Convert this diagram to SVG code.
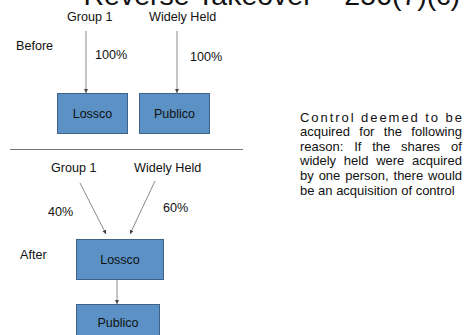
<svg xmlns="http://www.w3.org/2000/svg" width="467" height="335" viewBox="0 0 467 335">
<style>
text{font-family:"Liberation Sans",Arial,Helvetica,sans-serif;fill:#111}
.t{font-size:12.6px}
.n{font-size:12.5px;text-anchor:middle}
.box{fill:#5b91c4;stroke:#3f6288;stroke-width:1}
.c{stroke:#8a8a8a;stroke-width:1;fill:none}
.r{font-size:13px}
</style>
<defs>
<marker id="ah" viewBox="0 0 6 6" refX="6" refY="3" markerWidth="4" markerHeight="4" orient="auto" markerUnits="userSpaceOnUse">
<path d="M0,0 L6,3 L0,6 z" fill="#444"/>
</marker>
</defs>
<rect width="467" height="335" fill="#fff"/>
<text x="460" y="5" style="font-size:28.5px;text-anchor:end">Reverse Takeover – 256(7)(c)</text>
<g id="labels">
<text class="t" x="67" y="21">Group 1</text>
<text class="t" x="149" y="21">Widely Held</text>
<text class="t" x="16" y="50">Before</text>
<text class="t" x="95" y="59">100%</text>
<text class="t" x="190" y="61">100%</text>
<text class="t" x="51" y="172">Group 1</text>
<text class="t" x="134" y="172">Widely Held</text>
<text class="t" x="48" y="216">40%</text>
<text class="t" x="163" y="212">60%</text>
<text class="t" x="20" y="259">After</text>
</g>
<g id="connectors">
<line class="c" x1="86" y1="31" x2="86" y2="93" marker-end="url(#ah)"/>
<line class="c" x1="177" y1="31" x2="177" y2="93" marker-end="url(#ah)"/>
<line class="c" x1="80" y1="183" x2="106" y2="234" marker-end="url(#ah)"/>
<line class="c" x1="155" y1="181" x2="130" y2="234" marker-end="url(#ah)"/>
<line class="c" x1="117" y1="279" x2="117" y2="304" stroke="#555" marker-end="url(#ah)"/>
</g>
<line x1="10" y1="149.5" x2="243" y2="149.5" stroke="#777" stroke-width="1"/>
<g id="lossco-before">
<rect class="box" x="57.5" y="93.5" width="70" height="40"/>
<text class="n" x="92.5" y="118">Lossco</text>
</g>
<g id="publico-before">
<rect class="box" x="139.5" y="93.5" width="70" height="40"/>
<text class="n" x="174.5" y="118">Publico</text>
</g>
<g id="lossco-after">
<rect class="box" x="76.5" y="239.5" width="87" height="40"/>
<text class="n" x="120" y="263.5">Lossco</text>
</g>
<g id="publico-after">
<rect class="box" x="76.5" y="304.5" width="83" height="40"/>
<text class="n" x="118" y="327">Publico</text>
</g>
<g id="note">
<text class="r" x="300" y="121.5" textLength="162" lengthAdjust="spacing">Control deemed to be</text>
<text class="r" x="300" y="136.1" word-spacing="5.8">acquired for the following</text>
<text class="r" x="300" y="150.7" word-spacing="7.2">reason: If the shares of</text>
<text class="r" x="300" y="165.3" word-spacing="4.1">widely held were acquired</text>
<text class="r" x="300" y="179.9" word-spacing="1.3">by one person, there would</text>
<text class="r" x="300" y="194.5">be an acquisition of control</text>
</g>
</svg>
